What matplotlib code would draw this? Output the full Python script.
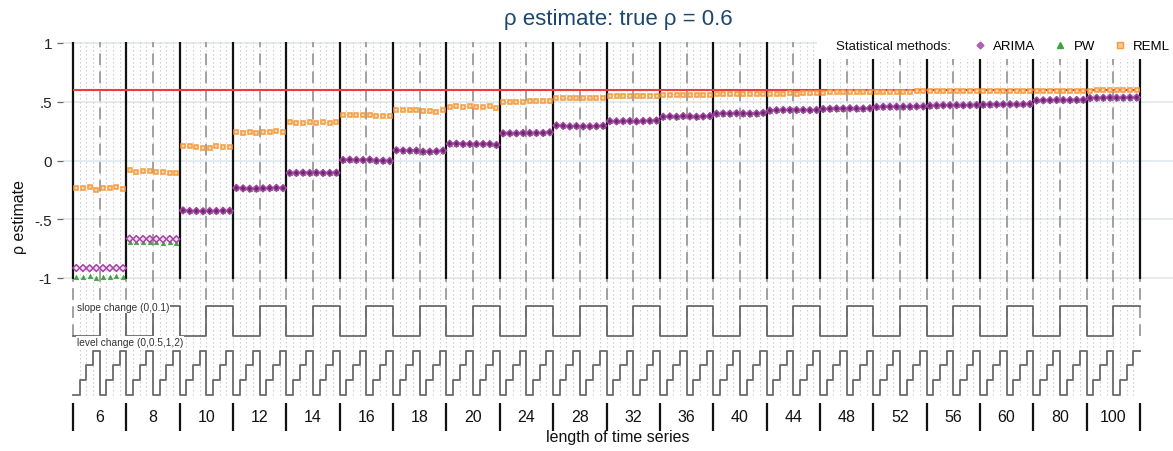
import itertools
import numpy as np
import matplotlib
matplotlib.use("Agg")
import matplotlib.pyplot as plt
from matplotlib.lines import Line2D
from matplotlib.patches import Rectangle

plt.rcParams['font.family'] = ['Liberation Sans', 'DejaVu Sans']

# ---------------- data ----------------
lengths = [6, 8, 10, 12, 14, 16, 18, 20, 24, 28, 32, 36, 40, 44, 48, 52, 56, 60, 80, 100]
slope_levels = [0, 0.1]
level_levels = [0, 0.5, 1, 2]
true_rho = 0.6
ytick_vals = [-1, -0.5, 0, 0.5, 1]
ytick_labels = ['-1', '-.5', '0', '.5', '1']

arima_est = [
    -0.915, -0.915, -0.917, -0.915, -0.916, -0.915, -0.915, -0.916,
    -0.665, -0.668, -0.668, -0.668, -0.668, -0.670, -0.668, -0.670,
    -0.425, -0.430, -0.430, -0.432, -0.430, -0.430, -0.428, -0.428,
    -0.233, -0.237, -0.240, -0.240, -0.237, -0.235, -0.233, -0.235,
    -0.106, -0.106, -0.104, -0.106, -0.104, -0.106, -0.106, -0.104,
    0.004, 0.007, 0.004, 0.004, 0.007, -0.002, -0.002, -0.004,
    0.087, 0.084, 0.084, 0.084, 0.075, 0.075, 0.078, 0.084,
    0.143, 0.143, 0.140, 0.140, 0.140, 0.140, 0.140, 0.132,
    0.231, 0.231, 0.231, 0.234, 0.234, 0.234, 0.234, 0.240,
    0.298, 0.295, 0.290, 0.293, 0.290, 0.290, 0.292, 0.295,
    0.335, 0.333, 0.335, 0.336, 0.333, 0.336, 0.338, 0.340,
    0.372, 0.375, 0.372, 0.378, 0.375, 0.372, 0.375, 0.378,
    0.398, 0.400, 0.398, 0.402, 0.400, 0.398, 0.400, 0.405,
    0.425, 0.428, 0.430, 0.430, 0.430, 0.430, 0.428, 0.430,
    0.438, 0.440, 0.442, 0.442, 0.444, 0.442, 0.442, 0.444,
    0.455, 0.457, 0.458, 0.458, 0.458, 0.458, 0.460, 0.460,
    0.466, 0.468, 0.470, 0.470, 0.471, 0.470, 0.471, 0.472,
    0.475, 0.476, 0.477, 0.478, 0.478, 0.478, 0.479, 0.480,
    0.511, 0.512, 0.513, 0.515, 0.514, 0.514, 0.515, 0.516,
    0.531, 0.533, 0.533, 0.535, 0.534, 0.534, 0.536, 0.536,
]

pw_est = [
    -0.990, -0.990, -0.985, -0.998, -0.990, -0.990, -0.985, -0.990,
    -0.695, -0.697, -0.697, -0.697, -0.697, -0.700, -0.697, -0.700,
    -0.425, -0.430, -0.430, -0.432, -0.430, -0.430, -0.428, -0.428,
    -0.233, -0.237, -0.240, -0.240, -0.237, -0.235, -0.233, -0.235,
    -0.106, -0.106, -0.104, -0.106, -0.104, -0.106, -0.106, -0.104,
    0.004, 0.007, 0.004, 0.004, 0.007, -0.002, -0.002, -0.004,
    0.087, 0.084, 0.084, 0.084, 0.075, 0.075, 0.078, 0.084,
    0.143, 0.143, 0.140, 0.140, 0.140, 0.140, 0.140, 0.132,
    0.231, 0.231, 0.231, 0.234, 0.234, 0.234, 0.234, 0.240,
    0.298, 0.295, 0.290, 0.293, 0.290, 0.290, 0.292, 0.295,
    0.335, 0.333, 0.335, 0.336, 0.333, 0.336, 0.338, 0.340,
    0.372, 0.375, 0.372, 0.378, 0.375, 0.372, 0.375, 0.378,
    0.398, 0.400, 0.398, 0.402, 0.400, 0.398, 0.400, 0.405,
    0.425, 0.428, 0.430, 0.430, 0.430, 0.430, 0.428, 0.430,
    0.438, 0.440, 0.442, 0.442, 0.444, 0.442, 0.442, 0.444,
    0.455, 0.457, 0.458, 0.458, 0.458, 0.458, 0.460, 0.460,
    0.466, 0.468, 0.470, 0.470, 0.471, 0.470, 0.471, 0.472,
    0.475, 0.476, 0.477, 0.478, 0.478, 0.478, 0.479, 0.480,
    0.511, 0.512, 0.513, 0.515, 0.514, 0.514, 0.515, 0.516,
    0.531, 0.533, 0.533, 0.535, 0.534, 0.534, 0.536, 0.536,
]

reml_est = [
    -0.237, -0.237, -0.226, -0.248, -0.237, -0.237, -0.228, -0.240,
    -0.081, -0.095, -0.089, -0.089, -0.095, -0.100, -0.106, -0.106,
    0.126, 0.120, 0.117, 0.110, 0.110, 0.120, 0.117, 0.117,
    0.245, 0.237, 0.240, 0.234, 0.243, 0.243, 0.248, 0.245,
    0.330, 0.322, 0.322, 0.328, 0.319, 0.328, 0.322, 0.325,
    0.390, 0.387, 0.385, 0.387, 0.387, 0.379, 0.379, 0.376,
    0.430, 0.430, 0.430, 0.430, 0.421, 0.421, 0.415, 0.427,
    0.458, 0.461, 0.458, 0.461, 0.458, 0.458, 0.461, 0.447,
    0.500, 0.500, 0.500, 0.500, 0.503, 0.503, 0.503, 0.509,
    0.528, 0.532, 0.528, 0.535, 0.530, 0.530, 0.532, 0.530,
    0.545, 0.548, 0.548, 0.550, 0.548, 0.548, 0.550, 0.552,
    0.555, 0.557, 0.555, 0.558, 0.557, 0.557, 0.560, 0.560,
    0.563, 0.565, 0.565, 0.566, 0.565, 0.566, 0.566, 0.568,
    0.568, 0.570, 0.570, 0.572, 0.570, 0.572, 0.572, 0.575,
    0.578, 0.580, 0.580, 0.580, 0.580, 0.580, 0.582, 0.582,
    0.585, 0.585, 0.586, 0.586, 0.586, 0.586, 0.588, 0.588,
    0.588, 0.589, 0.589, 0.590, 0.589, 0.589, 0.590, 0.590,
    0.588, 0.589, 0.589, 0.590, 0.589, 0.590, 0.590, 0.591,
    0.590, 0.591, 0.591, 0.592, 0.591, 0.592, 0.592, 0.593,
    0.595, 0.596, 0.596, 0.597, 0.597, 0.597, 0.598, 0.598,
]

# ---------------- design of the nested loop ----------------
design = list(itertools.product(lengths, slope_levels, level_levels))
n_pts = len(design)
per_block = len(slope_levels) * len(level_levels)
per_slope = len(level_levels)
xpos = np.arange(n_pts) + 0.5

# layout (pixel geometry of the reference)
W, H = 1173, 452
fig = plt.figure(figsize=(W / 100, H / 100), dpi=100)
ax_left, ax_right, ax_top, ax_bot = 63, 1173, 30, 404
ax = fig.add_axes([ax_left / W, 1 - ax_bot / H, (ax_right - ax_left) / W, (ax_bot - ax_top) / H])

px_per_x = 1067 / n_pts
px_per_y = 117.5
y0_px = 161.5
ax.set_xlim((ax_left - 73) / px_per_x, (ax_right - 73) / px_per_x)
ax.set_ylim((y0_px - ax_bot) / px_per_y, (y0_px - ax_top) / px_per_y)

def ypx(p):
    return (y0_px - p) / px_per_y

for s in ax.spines.values():
    s.set_visible(False)

# gridlines
ax.set_yticks(ytick_vals)
ax.set_yticklabels(ytick_labels, fontsize=11, color='#222222')
ax.tick_params(axis='y', length=4.5, width=0.9, color='#666666', pad=3.5)
ax.yaxis.grid(True, color='#e2eaee', lw=1.3, zorder=0)
ax.set_axisbelow(True)

top_line = ypx(42.5)
# dotted lines at every design point boundary
ax.vlines(np.arange(1, n_pts), ypx(396), top_line, colors='#c8c8c8', lw=0.8,
          linestyles=(0, (1.2, 2.4)), zorder=1)
# dashed lines at slope changes
ax.vlines(np.arange(0, n_pts + 1, per_slope), ypx(337), top_line, colors='#9a9a9a', lw=1.3,
          linestyles=(0, (6.5, 3.5)), zorder=1.2)
# solid lines at block boundaries
ax.vlines(np.arange(0, n_pts + 1, per_block), ypx(280), top_line, colors='#111111', lw=1.6, zorder=1.5)

# true value
ax.hlines(true_rho, 0, n_pts, colors='#ee3b3b', lw=1.5, zorder=2)

# step functions for design parameters
slope_y = {slope_levels[0]: ypx(337.3), slope_levels[1]: ypx(307.3)}
lev_bottom, lev_top = ypx(396), ypx(351.7)
lev_y = {lv: lev_bottom + i * (lev_top - lev_bottom) / (len(level_levels) - 1)
         for i, lv in enumerate(level_levels)}
sx = np.arange(n_pts + 1)
sy_slope = [slope_y[d[1]] for d in design]
sy_level = [lev_y[d[2]] for d in design]
ax.step(sx, sy_slope + [sy_slope[-1]], where='post', color='#6a6a6a', lw=1.3, zorder=2)
ax.step(sx, sy_level + [sy_level[-1]], where='post', color='#6a6a6a', lw=1.3, zorder=2)

ax.text(0.55, ypx(308), 'slope change (0,0.1)', fontsize=7.3, color='#333333', va='center', ha='left',
        zorder=2.5, bbox=dict(facecolor='white', edgecolor='none', pad=0.6))
ax.text(0.55, ypx(343), 'level change (0,0.5,1,2)', fontsize=7.3, color='#333333', va='center', ha='left',
        zorder=2.5, bbox=dict(facecolor='white', edgecolor='none', pad=0.6))

# estimates
arima = np.array(arima_est)
pw = np.array(pw_est)
reml = np.array(reml_est)
ax.plot(xpos, pw, ls='none', marker='^', ms=3.3, mfc='#3fa33f', mec='#3fa33f', mew=0.4, zorder=3)
arima_face = np.where(np.abs(arima - pw) < 0.01, '#6a2a6a', '#f1dcf1')
ax.scatter(xpos, arima, marker='D', s=12, facecolors=list(arima_face), edgecolors='#a444a4',
           linewidths=1.1, zorder=4)
ax.plot(xpos, reml, ls='none', marker='s', ms=3.3, mfc='#fcd7ae', mec='#f59b3d', mew=1.1, zorder=4)

# x axis: block labels and separators
centers = np.arange(len(lengths)) * per_block + per_block / 2
ax.set_xticks(centers)
ax.set_xticklabels([str(v) for v in lengths], fontsize=11.5, color='#111111')
ax.set_xticks(np.arange(0, n_pts + 1, per_block), minor=True)
ax.tick_params(axis='x', which='major', length=0, pad=4.5)
ax.tick_params(axis='x', which='minor', length=20, width=1.6, color='#111111', direction='out')
ax.set_xlabel('length of time series', fontsize=11.5, color='#111111')
ax.xaxis.set_label_coords(0.5, -(430 - ax_bot) / (ax_bot - ax_top))
ax.xaxis.label.set_va('top')

ax.set_ylabel('ρ estimate', fontsize=11.5, color='#111111')
ax.yaxis.set_label_coords((20 - ax_left) / (ax_right - ax_left), 0.5)
ax.yaxis.label.set_va('center')

ax.set_title('ρ estimate: true ρ = 0.6', fontsize=16, color='#1a476f', pad=1)

# legend
fig.add_artist(Rectangle((817 / W, 1 - 60 / H), (W - 817) / W, 29 / H, transform=fig.transFigure,
                         facecolor='white', edgecolor='none', zorder=1))
fig.text(836 / W, 1 - 47 / H, 'Statistical methods:', fontsize=9.5, color='#111111',
         ha='left', va='center', zorder=3)
handles = [
    Line2D([], [], ls='none', marker='D', ms=3.5, mfc='#b060b0', mec='#b060b0', label='ARIMA'),
    Line2D([], [], ls='none', marker='^', ms=4, mfc='#3fa33f', mec='#3fa33f', label='PW'),
    Line2D([], [], ls='none', marker='s', ms=4, mfc='#fcc98e', mec='#f59b3d', label='REML'),
]
fig.legend(handles=handles, ncol=3, loc='center left', bbox_to_anchor=(976 / W, 1 - 47 / H),
           frameon=False, fontsize=9.5, borderpad=0, handlelength=0.6, handletextpad=0.7,
           columnspacing=1.6, borderaxespad=0)

fig.savefig('out.png', dpi=100)
